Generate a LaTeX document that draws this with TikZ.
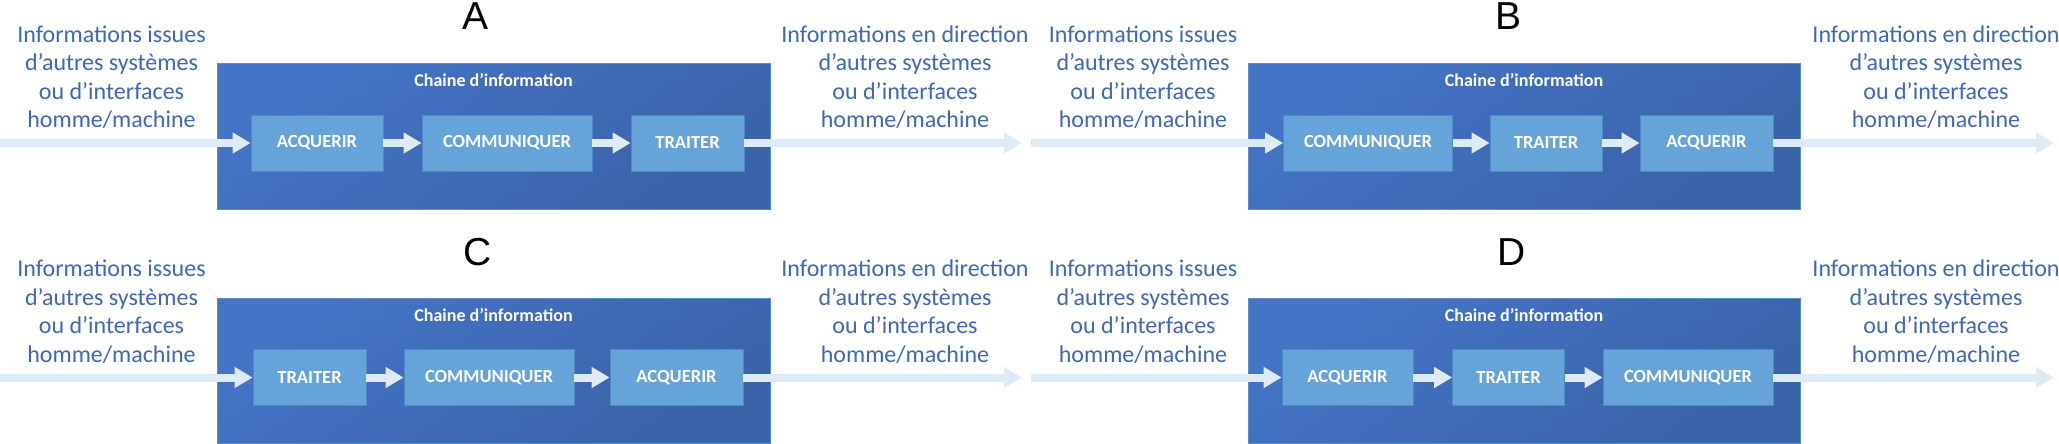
\documentclass[tikz,border=0pt]{standalone}
\usepackage{fontspec}
\setmainfont{Carlito}
\newfontfamily\letterfont{Liberation Sans}
\usetikzlibrary{arrows.meta}
\definecolor{sidetext}{RGB}{62,103,180}
\definecolor{boxlight}{RGB}{68,116,198}
\definecolor{boxdark}{RGB}{58,98,168}
\definecolor{boxedge}{RGB}{88,142,206}
\definecolor{stepfill}{RGB}{102,163,217}
\definecolor{stepedge}{RGB}{78,138,200}
\definecolor{flow}{RGB}{222,234,246}
\tikzset{
  chainbox/.style={rectangle, inner sep=0pt, draw=boxedge, line width=1pt,
    top color=boxlight, bottom color=boxdark, shading angle=35,
    minimum height=145pt},
  stepbox/.style={rectangle, inner sep=0pt, fill=stepfill, draw=stepedge, line width=0.8pt,
    text=white, font=\bfseries\fontsize{18.5}{20}\selectfont, minimum height=56pt},
  chaintitle/.style={anchor=base, inner sep=0pt, text=white,
    font=\bfseries\fontsize{18}{20}\selectfont},
  sidelabel/.style={align=center, inner sep=0pt, text=sidetext,
    font=\fontsize{24}{28.5}\selectfont},
  letterlabel/.style={anchor=base, inner sep=0pt, text=black,
    font=\letterfont\fontsize{39}{44}\selectfont},
  flowarrow/.style={draw=flow, line width=8pt, -{Triangle[width=20pt,length=18pt]}}
}
\begin{document}
\begin{tikzpicture}[x=1pt,y=-1pt]
\useasboundingbox (0,0) rectangle (2059,444);
% ---------- Panel A ----------
\node[letterlabel] (letA) at (475.5,29.5) {A};
\node[sidelabel] (inTxtA) at (111.5,77) {Informations issues\\d’autres systèmes\\ou d’interfaces\\homme/machine};
\node[sidelabel] (outTxtA) at (905,77) {Informations en direction\\d’autres systèmes\\ou d’interfaces\\homme/machine};
\node[chainbox, minimum width=553pt] (boxA) at (493.5,136.5) {};
\node[chaintitle] (titA) at (493.5,87) {Chaine d’information};
\node[stepbox, minimum width=132pt] (A1) at (317,143) {ACQUERIR};
\node[stepbox, minimum width=170pt] (A2) at (507,143) {COMMUNIQUER};
\node[stepbox, minimum width=113pt] (A3) at (687.5,143) {TRAITER};
\coordinate (inA) at (0,143);
\coordinate (outA) at (1022,143);
\draw[flowarrow] (inA) -- (A1.west);
\draw[flowarrow] (A1.east) -- (A2.west);
\draw[flowarrow] (A2.east) -- (A3.west);
\draw[flowarrow] (A3.east) -- (outA);
% ---------- Panel B ----------
\node[letterlabel] (letB) at (1508.5,29.5) {B};
\node[sidelabel] (inTxtB) at (1143,77) {Informations issues\\d’autres systèmes\\ou d’interfaces\\homme/machine};
\node[sidelabel] (outTxtB) at (1936,77) {Informations en direction\\d’autres systèmes\\ou d’interfaces\\homme/machine};
\node[chainbox, minimum width=552pt] (boxB) at (1524,136.5) {};
\node[chaintitle] (titB) at (1524,87) {Chaine d’information};
\node[stepbox, minimum width=169pt] (B1) at (1368,143) {COMMUNIQUER};
\node[stepbox, minimum width=112pt] (B2) at (1546,143) {TRAITER};
\node[stepbox, minimum width=133pt] (B3) at (1706.5,143) {ACQUERIR};
\coordinate (inB) at (1031,143);
\coordinate (outB) at (2054,143);
\draw[flowarrow] (inB) -- (B1.west);
\draw[flowarrow] (B1.east) -- (B2.west);
\draw[flowarrow] (B2.east) -- (B3.west);
\draw[flowarrow] (B3.east) -- (outB);
% ---------- Panel C ----------
\node[letterlabel] (letC) at (477.5,265) {C};
\node[sidelabel] (inTxtC) at (111.5,311.5) {Informations issues\\d’autres systèmes\\ou d’interfaces\\homme/machine};
\node[sidelabel] (outTxtC) at (905,311.5) {Informations en direction\\d’autres systèmes\\ou d’interfaces\\homme/machine};
\node[chainbox, minimum width=553pt] (boxC) at (493.5,371) {};
\node[chaintitle] (titC) at (493.5,321.5) {Chaine d’information};
\node[stepbox, minimum width=113pt] (C1) at (309.5,377.5) {TRAITER};
\node[stepbox, minimum width=170pt] (C2) at (489,377.5) {COMMUNIQUER};
\node[stepbox, minimum width=133pt] (C3) at (676.5,377.5) {ACQUERIR};
\coordinate (inC) at (0,377.5);
\coordinate (outC) at (1022,377.5);
\draw[flowarrow] (inC) -- (C1.west);
\draw[flowarrow] (C1.east) -- (C2.west);
\draw[flowarrow] (C2.east) -- (C3.west);
\draw[flowarrow] (C3.east) -- (outC);
% ---------- Panel D ----------
\node[letterlabel] (letD) at (1511.5,265) {D};
\node[sidelabel] (inTxtD) at (1143,311.5) {Informations issues\\d’autres systèmes\\ou d’interfaces\\homme/machine};
\node[sidelabel] (outTxtD) at (1936,311.5) {Informations en direction\\d’autres systèmes\\ou d’interfaces\\homme/machine};
\node[chainbox, minimum width=552pt] (boxD) at (1524,371) {};
\node[chaintitle] (titD) at (1524,321.5) {Chaine d’information};
\node[stepbox, minimum width=131pt] (D1) at (1347.5,377.5) {ACQUERIR};
\node[stepbox, minimum width=112pt] (D2) at (1508.5,377.5) {TRAITER};
\node[stepbox, minimum width=170pt] (D3) at (1688,377.5) {COMMUNIQUER};
\coordinate (inD) at (1031,377.5);
\coordinate (outD) at (2054,377.5);
\draw[flowarrow] (inD) -- (D1.west);
\draw[flowarrow] (D1.east) -- (D2.west);
\draw[flowarrow] (D2.east) -- (D3.west);
\draw[flowarrow] (D3.east) -- (outD);
\end{tikzpicture}
\end{document}
